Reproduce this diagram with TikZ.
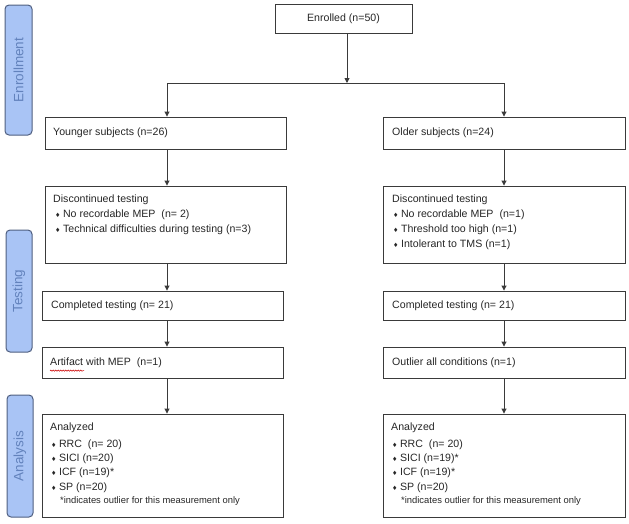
\documentclass[tikz,border=0pt]{standalone}
\usepackage{fontspec}
\setmainfont{Liberation Sans}
\newfontfamily\dejavu{DejaVu Sans}
\usetikzlibrary{arrows.meta,decorations.pathmorphing}
\definecolor{linegray}{HTML}{3A3A3A}
\definecolor{tabfill}{HTML}{A9C4F5}
\definecolor{tabline}{HTML}{4F5F80}
\definecolor{tabtext}{HTML}{6282BC}
\newcommand{\bul}{{\dejavu\fontsize{6}{6}\selectfont ♦}\hspace{2.5pt}}
\tikzset{
  box/.style={draw=linegray, line width=0.9pt, inner sep=0pt},
  tabbox/.style={draw=tabline, fill=tabfill, line width=1pt, rounded corners=4pt, inner sep=0pt},
  tablabel/.style={text=tabtext, font=\fontsize{13.5}{13.5}\selectfont, rotate=90},
  txt/.style={anchor=west, inner sep=0pt, font=\fontsize{10.6}{12}\selectfont, text=black!85},
  note/.style={anchor=west, inner sep=0pt, font=\fontsize{9.4}{11}\selectfont, text=black!85},
  arr/.style={draw=linegray, line width=0.9pt, -{Triangle[length=5pt,width=5pt]}},
  ln/.style={draw=linegray, line width=0.9pt}
}
\begin{document}
\begin{tikzpicture}[x=1pt,y=-1pt]
\useasboundingbox (0,0) rectangle (629,523);
% side tabs
\node[tabbox, minimum width=27pt, minimum height=130pt] (tabE) at (18.5,70) {};
\node[tablabel] (tabEt) at (tabE.center) {Enrollment};
\node[tabbox, minimum width=26pt, minimum height=122pt] (tabT) at (19,291) {};
\node[tablabel] (tabTt) at (tabT.center) {Testing};
\node[tabbox, minimum width=26pt, minimum height=122pt] (tabA) at (20,456) {};
\node[tablabel] (tabAt) at (tabA.center) {Analysis};
% boxes
\node[box, minimum width=137pt, minimum height=29pt] (enr) at (343.5,18.5) {};
\node[inner sep=0pt, font=\fontsize{10.6}{12}\selectfont, text=black!85] (enrt) at (enr.center) {Enrolled (n=50)};
\node[box, minimum width=241pt, minimum height=32pt] (young) at (165.5,133) {};
\node[box, minimum width=242pt, minimum height=32pt] (old) at (504,133) {};
\node[box, minimum width=241pt, minimum height=77pt] (discL) at (165.5,224.5) {};
\node[box, minimum width=242pt, minimum height=77pt] (discR) at (504,224.5) {};
\node[box, minimum width=241pt, minimum height=29pt] (compL) at (162.5,305.5) {};
\node[box, minimum width=242pt, minimum height=29pt] (compR) at (504,305.5) {};
\node[box, minimum width=241pt, minimum height=31pt] (artL) at (162.5,362.5) {};
\node[box, minimum width=242pt, minimum height=31pt] (outR) at (504,362.5) {};
\node[box, minimum width=241pt, minimum height=103pt] (anaL) at (162.5,465.5) {};
\node[box, minimum width=242pt, minimum height=103pt] (anaR) at (504,465.5) {};
% texts
\node[txt] (youngt) at (53,133) {Younger subjects (n=26)};
\node[txt] (oldt) at (392,133) {Older subjects (n=24)};
\node[txt] (dL0) at (53,200) {Discontinued testing};
\node[txt] (dL1) at (55,215) {\bul No recordable MEP\hspace{3pt} (n= 2)};
\node[txt] (dL2) at (55,230) {\bul Technical difficulties during testing (n=3)};
\node[txt] (dR0) at (392,200) {Discontinued testing};
\node[txt] (dR1) at (393,215) {\bul No recordable MEP\hspace{3pt} (n=1)};
\node[txt] (dR2) at (393,230) {\bul Threshold too high (n=1)};
\node[txt] (dR3) at (393,245) {\bul Intolerant to TMS (n=1)};
\node[txt] (cLt) at (51,305.5) {Completed testing (n= 21)};
\node[txt] (cRt) at (392,305.5) {Completed testing (n= 21)};
\node[txt] (aLt) at (50,363) {Artifact with MEP\hspace{3pt} (n=1)};
\draw[red!80!black, line width=0.5pt, decorate, decoration={snake, amplitude=0.6pt, segment length=2.5pt}] (aLt.south west) ++(0,2.5) -- ++(34,0);
\node[txt] (oRt) at (392,363) {Outlier all conditions (n=1)};
\node[txt] (nL0) at (50,428) {Analyzed};
\node[txt] (nL1) at (51,445) {\bul RRC\hspace{3pt} (n= 20)};
\node[txt] (nL2) at (51,459) {\bul SICI (n=20)};
\node[txt] (nL3) at (51,473) {\bul ICF (n=19)*};
\node[txt] (nL4) at (51,488) {\bul SP (n=20)};
\node[note] (nL5) at (60,501) {*indicates outlier for this measurement only};
\node[txt] (nR0) at (391,428) {Analyzed};
\node[txt] (nR1) at (392,445) {\bul RRC\hspace{3pt} (n= 20)};
\node[txt] (nR2) at (392,459) {\bul SICI (n=19)*};
\node[txt] (nR3) at (392,473) {\bul ICF (n=19)*};
\node[txt] (nR4) at (392,488) {\bul SP (n=20)};
\node[note] (nR5) at (401,501) {*indicates outlier for this measurement only};
% connectors
\coordinate (j) at (347,83);
\coordinate (xl) at (167,0);
\coordinate (xr) at (504,0);
\draw[arr] (enr.south -| j) -- (j);
\draw[ln] (j) -- (j -| xl);
\draw[ln] (j) -- (j -| xr);
\draw[arr] (j -| xl) -- (young.north -| xl);
\draw[arr] (j -| xr) -- (old.north -| xr);
\draw[arr] (young.south -| xl) -- (discL.north -| xl);
\draw[arr] (discL.south -| xl) -- (compL.north -| xl);
\draw[arr] (compL.south -| xl) -- (artL.north -| xl);
\draw[arr] (artL.south -| xl) -- (anaL.north -| xl);
\draw[arr] (old.south -| xr) -- (discR.north -| xr);
\draw[arr] (discR.south -| xr) -- (compR.north -| xr);
\draw[arr] (compR.south -| xr) -- (outR.north -| xr);
\draw[arr] (outR.south -| xr) -- (anaR.north -| xr);
\end{tikzpicture}
\end{document}
